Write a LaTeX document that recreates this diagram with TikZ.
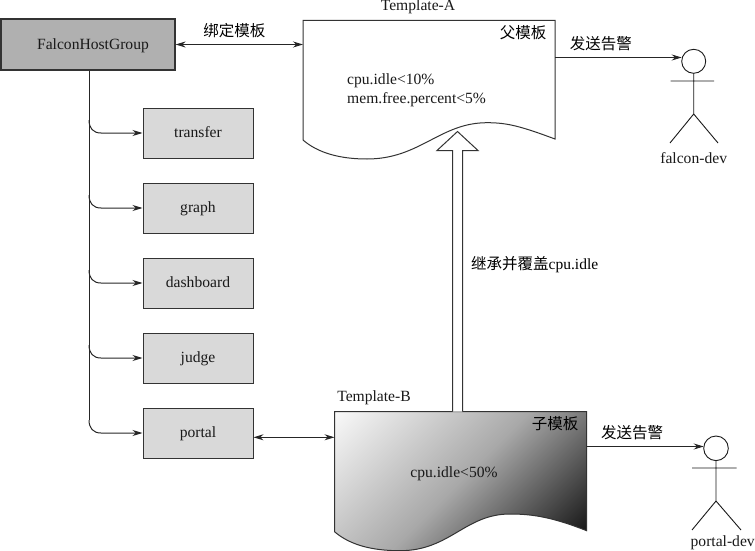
\documentclass[tikz,border=0pt]{standalone}
\usepackage{fontspec}
\setmainfont{Liberation Serif}
\newfontfamily\cjk{Noto Sans CJK SC}
\usetikzlibrary{arrows.meta,calc,positioning}
\pgfdeclareverticalshading{tplshade}{100bp}{color(0bp)=(black); color(13bp)=(black); color(50bp)=(black!34); color(88bp)=(white); color(100bp)=(white)}
\tikzset{
  lbl/.style={font=\fontsize{15.6}{17}\selectfont,inner sep=0pt,text=black!90},
  zhlbl/.style={font=\fontsize{15.5}{17}\selectfont\cjk,inner sep=0pt},
  hostbox/.style={draw=black!80,line width=1pt,fill=black!15,minimum width=110pt,minimum height=50pt,lbl,text height=10.4pt,text depth=1pt},
  doc/.style={draw=black!80,line width=1pt},
  actor/.style={draw=black!90,line width=0.9pt},
  link/.style={draw=black!85,line width=1pt},
}
\begin{document}
\begin{tikzpicture}[x=1pt,y=-1pt,>={Stealth[length=10pt,width=6pt]}]
\useasboundingbox (0,0) rectangle (755,551);
% host group and its members
\node[hostbox,fill=black!31,minimum width=174pt,minimum height=51pt,line width=1.2pt] (group) at (88,44.5) {\hspace*{10pt}FalconHostGroup};
\node[hostbox] (transfer) at (198,133) {transfer};
\node[hostbox,below=24pt of transfer] (graph) {graph};
\node[hostbox,below=24pt of graph] (dashboard) {dashboard};
\node[hostbox,below=24pt of dashboard] (judge) {judge};
\node[hostbox,below=24pt of judge] (portal) {portal};
% trunk and branches
\coordinate (trunk) at (89,420);
\draw[link] (group.south -| trunk) -- (trunk);
\foreach \n in {transfer,graph,dashboard,judge,portal}
  \draw[link,->] ($(trunk |- \n.west)+(0,-13)$) .. controls ($(trunk |- \n.west)+(0,-5)$) and ($(trunk |- \n.west)+(4,0)$) .. ($(trunk |- \n.west)+(12,0)$) -- (\n.west);
% parent template
\draw[doc,fill=white] (303,20.5) -- (555,20.5) -- (555,139) .. controls (520,126) and (507,122.7) .. (487,122.7)
  .. controls (440,122.7) and (420,159) .. (367,159) .. controls (340,159) and (318,153) .. (303,140) -- cycle;
\coordinate (tplAin) at (303,44.5);
\coordinate (tplAout) at (555,57.5);
\node[lbl] (tplA) at (418,7) {Template-A};
\node[zhlbl,anchor=east] (tplAtag) at (546.5,33) {父模板};
\node[lbl,anchor=west] (cpuA) at (347,81) {cpu.idle<10\%};
\node[lbl,anchor=west] (memA) at (347,99.5) {mem.free.percent<5\%};
% child template
\path[shade,shading=tplshade,shading angle=45,draw=black!80,line width=1pt] (334.5,411.7) -- (586.7,411.7) -- (586.7,530.7) .. controls (552,517) and (532,514) .. (510,514)
  .. controls (465,514) and (450,550.7) .. (400,550.7) .. controls (372,550.7) and (350,545) .. (334.5,531.7) -- cycle;
\coordinate (tplBin) at (334.5,437.3);
\coordinate (tplBout) at (586.7,446.5);
\node[lbl] (tplB) at (374,398) {Template-B};
\node[zhlbl,anchor=east] (tplBtag) at (578.5,424) {子模板};
\node[lbl] (cpuB) at (454,474) {cpu.idle<50\%};
% connectors between boxes and templates
\draw[link,<->] (tplAin -| group.east) -- (tplAin) node[midway,above=6pt,xshift=-5pt,zhlbl] (bindlbl) {绑定模板};
\draw[link,<->] (tplBin -| portal.east) -- (tplBin);
% hollow inherit arrow
\coordinate (inhS) at (457.5,411.7);
\coordinate (inhT) at (457.5,131.5);
\draw[doc,fill=white] ($(inhS)+(-5,0)$) -- ($(inhT)+(-5,19)$) -- ($(inhT)+(-20.5,19)$) -- (inhT) -- ($(inhT)+(20.5,19)$) -- ($(inhT)+(5,19)$) -- ($(inhS)+(5,0)$);
\node[font=\fontsize{15.5}{17}\selectfont,inner sep=0pt,anchor=west] (inhlbl) at (471,265) {{\cjk 继承并覆盖}cpu.idle};
% falcon-dev
\coordinate (headA) at (693.7,61.3);
\draw[actor] (headA) circle (12);
\draw[actor] (693.7,73.3) -- (693.7,114) (670.7,81) -- (714,81) (670,143) -- (693.7,114) -- (718,143);
\node[lbl] (devA) at (693.7,158) {falcon-dev};
\draw[link,->] (tplAout) -- (tplAout -| 681.7,0) node[midway,above=6pt,xshift=-17.5pt,zhlbl] (alertA) {发送告警};
% portal-dev
\coordinate (headB) at (716,448.3);
\draw[actor] (headB) circle (12.3);
\draw[actor] (716,460.6) -- (716,501) (692,468) -- (736.7,468) (692,530) -- (716,501) -- (741,530);
\node[lbl] (devB) at (722.7,543) {portal-dev};
\draw[link,->] (tplBout) -- (tplBout -| 703.7,0) node[midway,above=6pt,xshift=-13pt,zhlbl] (alertB) {发送告警};
\end{tikzpicture}
\end{document}
